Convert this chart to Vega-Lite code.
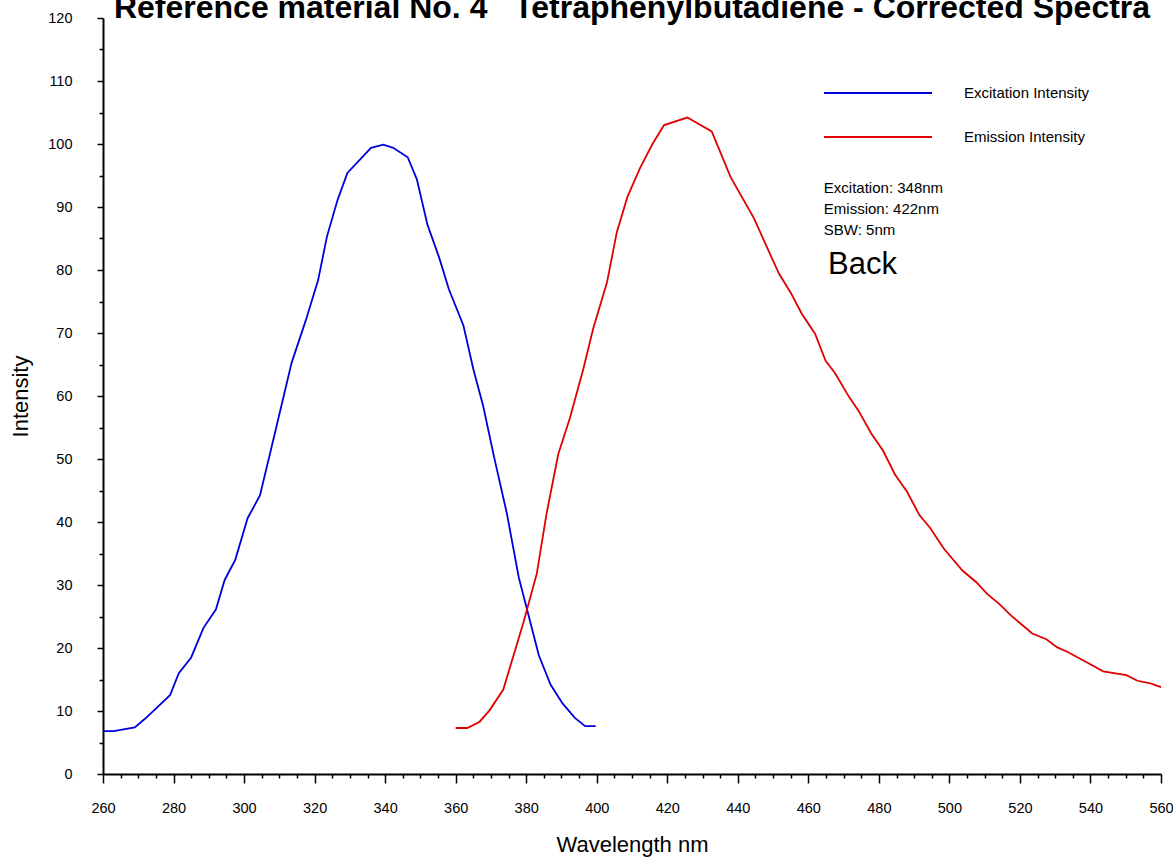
{
  "$schema": "https://vega.github.io/schema/vega-lite/v6.json",
  "width": 1058,
  "height": 756,
  "autosize": {"type": "none"},
  "padding": {"left": 103, "top": 18, "right": 12, "bottom": 86},
  "background": "white",
  "title": {
    "text": "Reference material No. 4\u00a0\u00a0\u00a0Tetraphenylbutadiene - Corrected Spectra",
    "font": "Liberation Sans",
    "fontSize": 32,
    "fontWeight": "bold",
    "color": "black",
    "anchor": "middle",
    "frame": "group",
    "baseline": "alphabetic",
    "offset": 0,
    "dy": 40
  },
  "config": {
    "view": {"stroke": null},
    "axis": {
      "domainColor": "black",
      "domainWidth": 2,
      "tickColor": "black",
      "tickWidth": 1.5,
      "labelColor": "black",
      "titleColor": "black",
      "labelFont": "Liberation Sans",
      "titleFont": "Liberation Sans",
      "labelFontSize": 14.5,
      "titleFontSize": 22,
      "titleFontWeight": "normal",
      "grid": false,
      "labelFlush": false,
      "labelOverlap": false
    },
    "legend": {"labelFont": "Liberation Sans"},
    "text": {"font": "Liberation Sans"}
  },
  "resolve": {"axis": {"x": "independent", "y": "independent"}},
  "layer": [
    {
      "data": {
        "values": [
          {"series": "Excitation Intensity", "wavelength": 260, "intensity": 6.8},
          {"series": "Excitation Intensity", "wavelength": 263, "intensity": 6.8},
          {"series": "Excitation Intensity", "wavelength": 269, "intensity": 7.4},
          {"series": "Excitation Intensity", "wavelength": 272, "intensity": 8.8},
          {"series": "Excitation Intensity", "wavelength": 279, "intensity": 12.5},
          {"series": "Excitation Intensity", "wavelength": 281.5, "intensity": 16.0},
          {"series": "Excitation Intensity", "wavelength": 285, "intensity": 18.5},
          {"series": "Excitation Intensity", "wavelength": 288.5, "intensity": 23.2},
          {"series": "Excitation Intensity", "wavelength": 292, "intensity": 26.1},
          {"series": "Excitation Intensity", "wavelength": 294.5, "intensity": 30.8},
          {"series": "Excitation Intensity", "wavelength": 297.5, "intensity": 34.0},
          {"series": "Excitation Intensity", "wavelength": 301, "intensity": 40.6},
          {"series": "Excitation Intensity", "wavelength": 304.5, "intensity": 44.2},
          {"series": "Excitation Intensity", "wavelength": 307.5, "intensity": 51.2},
          {"series": "Excitation Intensity", "wavelength": 313.5, "intensity": 65.3},
          {"series": "Excitation Intensity", "wavelength": 317.5, "intensity": 72.0},
          {"series": "Excitation Intensity", "wavelength": 321, "intensity": 78.4},
          {"series": "Excitation Intensity", "wavelength": 323.5, "intensity": 85.3},
          {"series": "Excitation Intensity", "wavelength": 326.5, "intensity": 91.1},
          {"series": "Excitation Intensity", "wavelength": 329.3, "intensity": 95.4},
          {"series": "Excitation Intensity", "wavelength": 336, "intensity": 99.4},
          {"series": "Excitation Intensity", "wavelength": 339.5, "intensity": 99.9},
          {"series": "Excitation Intensity", "wavelength": 342.3, "intensity": 99.4},
          {"series": "Excitation Intensity", "wavelength": 346.4, "intensity": 97.9},
          {"series": "Excitation Intensity", "wavelength": 349, "intensity": 94.4},
          {"series": "Excitation Intensity", "wavelength": 352, "intensity": 87.2},
          {"series": "Excitation Intensity", "wavelength": 355.3, "intensity": 82.0},
          {"series": "Excitation Intensity", "wavelength": 358.1, "intensity": 76.9},
          {"series": "Excitation Intensity", "wavelength": 362.2, "intensity": 71.2},
          {"series": "Excitation Intensity", "wavelength": 365, "intensity": 64.3},
          {"series": "Excitation Intensity", "wavelength": 367.8, "intensity": 58.4},
          {"series": "Excitation Intensity", "wavelength": 370.9, "intensity": 50.3},
          {"series": "Excitation Intensity", "wavelength": 374.5, "intensity": 41.4},
          {"series": "Excitation Intensity", "wavelength": 377.9, "intensity": 31.2},
          {"series": "Excitation Intensity", "wavelength": 383.6, "intensity": 18.8},
          {"series": "Excitation Intensity", "wavelength": 386.9, "intensity": 14.2},
          {"series": "Excitation Intensity", "wavelength": 390.3, "intensity": 11.2},
          {"series": "Excitation Intensity", "wavelength": 393.8, "intensity": 8.9},
          {"series": "Excitation Intensity", "wavelength": 396.7, "intensity": 7.6},
          {"series": "Excitation Intensity", "wavelength": 399.7, "intensity": 7.6},
          {"series": "Emission Intensity", "wavelength": 360, "intensity": 7.3},
          {"series": "Emission Intensity", "wavelength": 363.3, "intensity": 7.3},
          {"series": "Emission Intensity", "wavelength": 366.8, "intensity": 8.3},
          {"series": "Emission Intensity", "wavelength": 369.6, "intensity": 10.1},
          {"series": "Emission Intensity", "wavelength": 373.5, "intensity": 13.4},
          {"series": "Emission Intensity", "wavelength": 376.4, "intensity": 18.8},
          {"series": "Emission Intensity", "wavelength": 379.2, "intensity": 24.0},
          {"series": "Emission Intensity", "wavelength": 383.0, "intensity": 31.8},
          {"series": "Emission Intensity", "wavelength": 385.8, "intensity": 41.4},
          {"series": "Emission Intensity", "wavelength": 389.1, "intensity": 50.8},
          {"series": "Emission Intensity", "wavelength": 392.4, "intensity": 56.5},
          {"series": "Emission Intensity", "wavelength": 396.2, "intensity": 64.3},
          {"series": "Emission Intensity", "wavelength": 399.0, "intensity": 70.7},
          {"series": "Emission Intensity", "wavelength": 402.9, "intensity": 78.0},
          {"series": "Emission Intensity", "wavelength": 405.7, "intensity": 86.0},
          {"series": "Emission Intensity", "wavelength": 408.7, "intensity": 91.6},
          {"series": "Emission Intensity", "wavelength": 412.3, "intensity": 96.2},
          {"series": "Emission Intensity", "wavelength": 415.8, "intensity": 100.0},
          {"series": "Emission Intensity", "wavelength": 419.1, "intensity": 103.0},
          {"series": "Emission Intensity", "wavelength": 425.7, "intensity": 104.2},
          {"series": "Emission Intensity", "wavelength": 432.6, "intensity": 102.0},
          {"series": "Emission Intensity", "wavelength": 438.0, "intensity": 94.7},
          {"series": "Emission Intensity", "wavelength": 444.6, "intensity": 88.2},
          {"series": "Emission Intensity", "wavelength": 448.2, "intensity": 83.7},
          {"series": "Emission Intensity", "wavelength": 451.7, "intensity": 79.4},
          {"series": "Emission Intensity", "wavelength": 455.0, "intensity": 76.4},
          {"series": "Emission Intensity", "wavelength": 458.1, "intensity": 73.1},
          {"series": "Emission Intensity", "wavelength": 461.9, "intensity": 69.9},
          {"series": "Emission Intensity", "wavelength": 464.9, "intensity": 65.6},
          {"series": "Emission Intensity", "wavelength": 467.5, "intensity": 63.7},
          {"series": "Emission Intensity", "wavelength": 471.5, "intensity": 59.9},
          {"series": "Emission Intensity", "wavelength": 474.3, "intensity": 57.6},
          {"series": "Emission Intensity", "wavelength": 477.8, "intensity": 54.1},
          {"series": "Emission Intensity", "wavelength": 481.2, "intensity": 51.3},
          {"series": "Emission Intensity", "wavelength": 484.6, "intensity": 47.5},
          {"series": "Emission Intensity", "wavelength": 488.0, "intensity": 44.8},
          {"series": "Emission Intensity", "wavelength": 491.5, "intensity": 41.1},
          {"series": "Emission Intensity", "wavelength": 494.5, "intensity": 39.1},
          {"series": "Emission Intensity", "wavelength": 498.4, "intensity": 35.8},
          {"series": "Emission Intensity", "wavelength": 503.7, "intensity": 32.3},
          {"series": "Emission Intensity", "wavelength": 507.7, "intensity": 30.4},
          {"series": "Emission Intensity", "wavelength": 510.7, "intensity": 28.6},
          {"series": "Emission Intensity", "wavelength": 514.1, "intensity": 27.0},
          {"series": "Emission Intensity", "wavelength": 517.6, "intensity": 25.1},
          {"series": "Emission Intensity", "wavelength": 523.5, "intensity": 22.3},
          {"series": "Emission Intensity", "wavelength": 527.5, "intensity": 21.4},
          {"series": "Emission Intensity", "wavelength": 530.6, "intensity": 20.1},
          {"series": "Emission Intensity", "wavelength": 533.4, "intensity": 19.4},
          {"series": "Emission Intensity", "wavelength": 539.7, "intensity": 17.5},
          {"series": "Emission Intensity", "wavelength": 543.6, "intensity": 16.3},
          {"series": "Emission Intensity", "wavelength": 550.2, "intensity": 15.7},
          {"series": "Emission Intensity", "wavelength": 553.3, "intensity": 14.8},
          {"series": "Emission Intensity", "wavelength": 557.0, "intensity": 14.4},
          {"series": "Emission Intensity", "wavelength": 560.0, "intensity": 13.8}
        ]
      },
      "mark": {"type": "line", "strokeWidth": 1.8},
      "encoding": {
        "x": {
          "field": "wavelength",
          "type": "quantitative",
          "scale": {"domain": [260, 560], "nice": false, "zero": false},
          "axis": {
            "orient": "bottom",
            "title": "Wavelength nm",
            "values": [260, 280, 300, 320, 340, 360, 380, 400, 420, 440, 460, 480, 500, 520, 540, 560],
            "format": "d",
            "tickSize": 9,
            "labelPadding": 18,
            "titlePadding": 20
          }
        },
        "y": {
          "field": "intensity",
          "type": "quantitative",
          "scale": {"domain": [0, 120], "nice": false},
          "axis": {
            "orient": "left",
            "title": "Intensity",
            "values": [0, 10, 20, 30, 40, 50, 60, 70, 80, 90, 100, 110, 120],
            "format": "d",
            "tickSize": 6,
            "labelPadding": 25,
            "titlePadding": 15
          }
        },
        "color": {
          "field": "series",
          "type": "nominal",
          "scale": {"domain": ["Excitation Intensity", "Emission Intensity"], "range": ["#0000dd", "#e00000"]},
          "legend": {
            "orient": "none",
            "legendX": 720,
            "legendY": 65,
            "title": null,
            "padding": 0,
            "symbolType": "stroke",
            "symbolSize": 11664,
            "symbolStrokeWidth": 1.8,
            "symbolOffset": 0,
            "clipHeight": 20,
            "rowPadding": 24,
            "labelOffset": 31,
            "labelFontSize": 15,
            "labelColor": "black",
            "labelLimit": 300
          }
        }
      }
    },
    {
      "data": {"values": [{"note": "Excitation: 348nm\nEmission: 422nm\nSBW: 5nm"}]},
      "mark": {"type": "text", "align": "left", "baseline": "alphabetic", "fontSize": 15, "lineHeight": 21, "lineBreak": "\n", "color": "black"},
      "encoding": {
        "x": {
          "datum": 464.4,
          "type": "quantitative",
          "axis": {
            "orient": "bottom",
            "title": null,
            "labels": false,
            "domain": false,
            "tickSize": 4,
            "values": [265, 270, 275, 285, 290, 295, 305, 310, 315, 325, 330, 335, 345, 350, 355, 365, 370, 375, 385, 390, 395, 405, 410, 415, 425, 430, 435, 445, 450, 455, 465, 470, 475, 485, 490, 495, 505, 510, 515, 525, 530, 535, 545, 550, 555]
          }
        },
        "y": {
          "datum": 92.3,
          "type": "quantitative",
          "axis": {
            "orient": "left",
            "title": null,
            "labels": false,
            "domain": false,
            "tickSize": 4,
            "values": [5, 15, 25, 35, 45, 55, 65, 75, 85, 95, 105, 115]
          }
        },
        "text": {"field": "note", "type": "nominal"}
      }
    },
    {
      "data": {"values": [{"note": "Back"}]},
      "mark": {"type": "text", "align": "left", "baseline": "alphabetic", "fontSize": 31, "color": "black"},
      "encoding": {
        "x": {"datum": 465.6, "type": "quantitative", "axis": null},
        "y": {"datum": 79.4, "type": "quantitative", "axis": null},
        "text": {"field": "note", "type": "nominal"}
      }
    }
  ]
}
